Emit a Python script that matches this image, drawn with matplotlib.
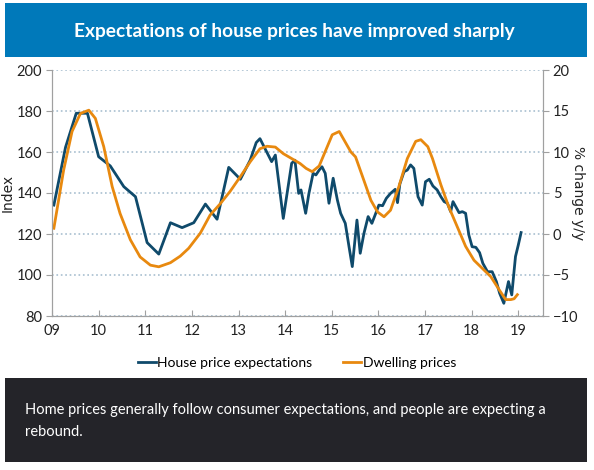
import numpy as np
import matplotlib.pyplot as plt
from matplotlib.patches import Rectangle

# House price expectations index (left axis), decimal years
exp_t = [2009.04, 2009.29, 2009.52, 2009.76, 2010.0, 2010.25, 2010.54, 2010.79,
         2011.04, 2011.29, 2011.54, 2011.79, 2012.04, 2012.29, 2012.54, 2012.79,
         2013.04, 2013.25, 2013.38, 2013.46, 2013.71, 2013.79, 2013.96, 2014.14,
         2014.21, 2014.29, 2014.34, 2014.44, 2014.51, 2014.6, 2014.66, 2014.73,
         2014.79, 2014.86, 2014.94, 2015.03, 2015.12, 2015.19, 2015.29, 2015.37,
         2015.44, 2015.54, 2015.61, 2015.69, 2015.78, 2015.86, 2015.93, 2016.01,
         2016.09, 2016.17, 2016.26, 2016.36, 2016.41, 2016.46, 2016.55, 2016.62,
         2016.69, 2016.76, 2016.85, 2016.94, 2017.01, 2017.09, 2017.17, 2017.26,
         2017.34, 2017.41, 2017.48, 2017.55, 2017.6, 2017.66, 2017.73, 2017.8,
         2017.87, 2017.94, 2018.01, 2018.09, 2018.17, 2018.24, 2018.34, 2018.44,
         2018.53, 2018.6, 2018.69, 2018.79, 2018.86, 2018.94, 2019.0, 2019.06]
exp_v = [134.1, 162.3, 178.9, 178.9, 157.7, 153.2, 143.1, 138.2,
         115.8, 110.2, 125.5, 123.1, 125.5, 134.6, 127.2, 152.5,
         146.7, 156.0, 164.6, 166.5, 155.3, 158.5, 127.6, 154.5,
         156.0, 139.8, 141.5, 130.1, 139.8, 149.6, 148.8, 151.2,
         152.8, 149.6, 135.0, 147.2, 136.6, 130.1, 125.2, 113.8,
         104.1, 126.8, 110.6, 120.3, 128.5, 125.2, 129.3, 134.1,
         133.8, 137.4, 139.8, 141.8, 135.3, 144.4, 150.4, 151.2,
         153.7, 152.0, 138.2, 134.1, 145.5, 146.7, 143.4, 141.5,
         138.2, 135.8, 135.0, 130.9, 135.8, 133.3, 130.4, 130.9,
         130.1, 119.5, 113.8, 113.5, 110.9, 105.7, 101.6, 101.6,
         96.8, 91.1, 86.2, 96.8, 90.3, 109.0, 114.6, 120.7]

# Dwelling prices, % change y/y (right axis)
dw_t = [2009.04, 2009.25, 2009.43, 2009.61, 2009.79, 2009.93, 2010.11, 2010.29,
        2010.46, 2010.68, 2010.89, 2011.11, 2011.29, 2011.54, 2011.75, 2011.93,
        2012.18, 2012.39, 2012.61, 2012.82, 2013.04, 2013.25, 2013.46, 2013.61,
        2013.79, 2013.96, 2014.14, 2014.32, 2014.45, 2014.58, 2014.73, 2014.87,
        2015.01, 2015.16, 2015.26, 2015.41, 2015.51, 2015.66, 2015.84, 2015.98,
        2016.12, 2016.26, 2016.44, 2016.62, 2016.8, 2016.91, 2017.06, 2017.16,
        2017.34, 2017.51, 2017.69, 2017.87, 2018.05, 2018.23, 2018.41, 2018.59,
        2018.73, 2018.84, 2018.91, 2018.98]
dw_v = [0.7, 7.8, 12.5, 14.7, 15.1, 14.1, 10.65, 5.8,
        2.5, -0.7, -2.8, -3.8, -4.0, -3.5, -2.7, -1.75,
        0.1, 2.3, 3.7, 5.2, 7.0, 8.8, 10.4, 10.7,
        10.6, 9.8, 9.2, 8.6, 8.0, 7.6, 8.3, 10.2,
        12.1, 12.5, 11.5, 10.0, 9.4, 7.0, 4.1, 2.7,
        2.1, 2.9, 5.8, 9.2, 11.3, 11.5, 10.65, 9.2,
        6.0, 3.3, 0.9, -1.5, -3.2, -4.2, -5.2, -6.8,
        -8.0, -8.0, -7.9, -7.4]

years = list(range(2009, 2020))
year_labels = ['09', '10', '11', '12', '13', '14', '15', '16', '17', '18', '19']

TITLE = "Expectations of house prices have improved sharply"
CAPTION = ("Home prices generally follow consumer expectations, and people are expecting a\n"
           "rebound.")

BLUE = '#0f4a6b'
ORANGE = '#e8890f'
FONT = ['Lato', 'DejaVu Sans']

fig = plt.figure(figsize=(5.94, 4.70), dpi=100)
W, H = 594, 470

# title banner and caption box
fig.patches.append(Rectangle((5 / W, 1 - 57 / H), 582 / W, 54 / H, transform=fig.transFigure,
                             facecolor='#0079ba', edgecolor='none'))
fig.text(294 / W, 1 - 31 / H, TITLE, color='white', fontsize=13.8, fontweight='bold',
         family=FONT, ha='center', va='center')
fig.patches.append(Rectangle((5 / W, 1 - 462 / H), 582 / W, 84 / H, transform=fig.transFigure,
                             facecolor='#242429', edgecolor='none'))
fig.text(25 / W, 1 - 421 / H, CAPTION, color='white', fontsize=10.5, family=FONT,
         ha='left', va='center', linespacing=1.7)

ax = fig.add_axes([52 / W, 1 - 316 / H, 491 / W, 246 / H])
ax2 = ax.twinx()

l1, = ax.plot(exp_t, exp_v, color=BLUE, lw=2)
l2, = ax2.plot(dw_t, dw_v, color=ORANGE, lw=2)

ax.set_xlim(2009, 2019.53)
ax.set_ylim(80, 200)
ax2.set_ylim(-10, 20)
ax.set_yticks(range(80, 201, 20))
ax2.set_yticks(range(-10, 21, 5))
ax.set_xticks(years)
ax.set_xticklabels(year_labels)
ax.grid(axis='y', color='#a8bfd0', linestyle=':', lw=1.2)
ax.set_axisbelow(True)

for a in (ax, ax2):
    a.spines['top'].set_visible(False)
    for s in ('left', 'right', 'bottom'):
        a.spines[s].set_color('#a0a0a0')
    for lab in a.get_xticklabels() + a.get_yticklabels():
        lab.set_family(FONT)
        lab.set_fontsize(10.5)
        lab.set_color('#222222')
ax.tick_params(axis='x', direction='in', length=4, color='#a0a0a0', pad=6)
ax.tick_params(axis='y', direction='out', length=4, color='#a0a0a0', pad=3)
ax2.tick_params(axis='y', direction='out', length=4, color='#a0a0a0', pad=3)

ax.set_ylabel('Index', fontsize=10, family=['DejaVu Sans'], color='#222222', va='center')
ax.yaxis.set_label_coords(-0.09, 0.5)
ax2.set_ylabel('% change y/y', fontsize=10, family=['DejaVu Sans'], color='#222222',
               rotation=-90, va='center')
ax2.yaxis.set_label_coords(1.071, 0.5)

fig.legend([l1, l2], ['House price expectations', 'Dwelling prices'],
           loc='center', bbox_to_anchor=(297 / W, 1 - 363 / H), ncol=2, frameon=False,
           handlelength=1.3, handletextpad=0.1, columnspacing=2.2,
           prop={'family': FONT, 'size': 10})

fig.savefig('out.png', dpi=100)
